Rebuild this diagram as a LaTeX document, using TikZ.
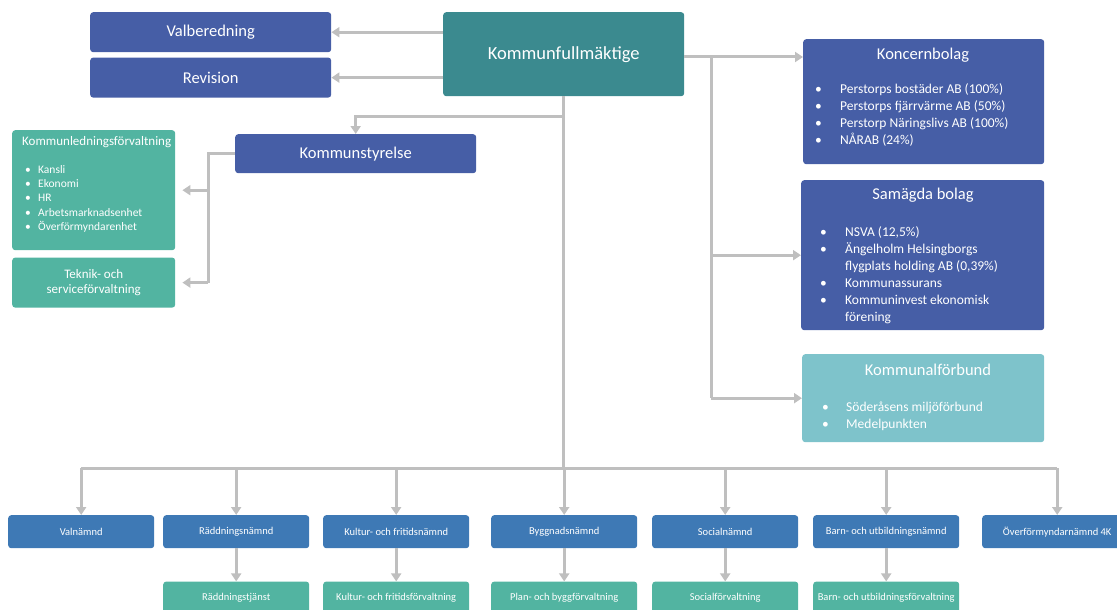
\documentclass[tikz,border=0pt]{standalone}
\usepackage{fontspec}
\setmainfont{Carlito}
\usetikzlibrary{positioning,arrows.meta}
\definecolor{navy}{RGB}{70,94,166}
\definecolor{kfteal}{RGB}{59,138,143}
\definecolor{mint}{RGB}{82,180,161}
\definecolor{sky}{RGB}{126,195,203}
\definecolor{steel}{RGB}{62,121,181}
\definecolor{wire}{RGB}{191,191,191}
\newcommand\bul[1][25pt]{\makebox[#1][l]{\textbullet}}
\tikzset{
	box/.style={rounded corners=3pt,text=white,inner sep=0pt,align=center,anchor=north west},
	nav/.style={box,fill=navy},
	mintbox/.style={box,fill=mint},
	nmnd/.style={box,fill=steel,minimum width=146pt,minimum height=33pt,font=\fontsize{10.5}{12}\selectfont},
	forv/.style={box,fill=mint,minimum width=146pt,minimum height=33pt,font=\fontsize{10.5}{12}\selectfont},
	head/.style={text=white,font=\fontsize{16.5}{19}\selectfont},
	lst/.style={text=white,align=left,anchor=north west,inner sep=0pt,font=\fontsize{13.5}{17}\selectfont},
	link/.style={draw=wire,line width=3pt},
	arr/.style={link,-{Triangle[width=10pt,length=8pt]}},
}
\begin{document}
\begin{tikzpicture}[x=1pt,y=-1pt]
	\useasboundingbox (0,0) rectangle (1117,610);
	\clip (0,0) rectangle (1117,610);
	\node[box,fill=kfteal,minimum width=241pt,minimum height=84pt,font=\fontsize{18.5}{22}\selectfont] (kf) at (443,12) {Kommunfullmäktige};
	\node[nav,minimum width=241pt,minimum height=40pt,font=\fontsize{16.5}{19}\selectfont] (valb) at (90,12) {Valberedning};
	\node[nav,minimum width=241pt,minimum height=40pt,font=\fontsize{16.5}{19}\selectfont,below=5pt of valb] (rev) {Revision};
	\node[nav,minimum width=241pt,minimum height=39pt,font=\fontsize{16.5}{19}\selectfont] (ks) at (235,134) {Kommunstyrelse};
	
	\node[mintbox,minimum width=163pt,minimum height=120pt] (kl) at (12,130) {};
	\node[text=white,anchor=west,inner sep=0pt,font=\fontsize{13}{15}\selectfont] (klt) at (22,142) {Kommunledningsförvaltning};
	\node[lst,font=\fontsize{11.5}{14.3}\selectfont] (kll) at (25,165) {\bul[13pt]Kansli\\ \bul[13pt]Ekonomi\\ \bul[13pt]HR\\ \bul[13pt]Arbetsmarknadsenhet\\ \bul[13pt]Överförmyndarenhet};
	\node[mintbox,minimum width=163pt,minimum height=50pt,font=\fontsize{13}{15}\selectfont,below=7pt of kl] (tek) {Teknik- och\\ serviceförvaltning};
	
	\node[nav,minimum width=241pt,minimum height=125pt] (kb) at (803,39) {};
	\node[head] (kbt) at (923,55) {Koncernbolag};
	\node[lst] (kbl) at (815,83) {\bul Perstorps bostäder AB (100\%)\\ \bul Perstorps fjärrvärme AB (50\%)\\ \bul Perstorp Näringslivs AB (100\%)\\ \bul NÅRAB (24\%)};
	\node[nav,minimum width=243pt,minimum height=150pt] (sb) at (801,180) {};
	\node[head] (sbt) at (923,195) {Samägda bolag};
	\node[lst] (sbl) at (820,226) {\bul NSVA (12,5\%)\\ \bul Ängelholm Helsingborgs\\ \hspace*{25pt}flygplats holding AB (0,39\%)\\ \bul Kommunassurans\\ \bul Kommuninvest ekonomisk\\ \hspace*{25pt}förening};
	\node[box,fill=sky,minimum width=242pt,minimum height=88pt] (kfb) at (802,354) {};
	\node[head] (kfbt) at (928,370) {Kommunalförbund};
	\node[lst] (kfbl) at (822,402) {\bul[24pt]Söderåsens miljöförbund\\ \bul[24pt]Medelpunkten};
	
	\node[nmnd] (valn) at (8,515) {Valnämnd};
	\node[nmnd] (raddn) at (163,515) {Räddningsnämnd};
	\node[nmnd] (kultn) at (323,515) {Kultur- och fritidsnämnd};
	\node[nmnd] (byggn) at (491,515) {Byggnadsnämnd};
	\node[nmnd] (socn) at (652,515) {Socialnämnd};
	\node[nmnd] (barnn) at (813,515) {Barn- och utbildningsnämnd};
	\node[nmnd,minimum width=150pt] (overf) at (982,515) {Överförmyndarnämnd 4K};
	\node[forv,below=33pt of raddn] (raddf) {Räddningstjänst};
	\node[forv,below=33pt of kultn] (kultf) {Kultur- och fritidsförvaltning};
	\node[forv,below=33pt of byggn] (byggf) {Plan- och byggförvaltning};
	\node[forv,below=33pt of socn] (socf) {Socialförvaltning};
	\node[forv,below=33pt of barnn] (barnf) {Barn- och utbildningsförvaltning};
	
	\coordinate (bus) at (565,468);
	\coordinate (ksj) at (565,116);
	\coordinate (rj) at (711,57);
	\coordinate (lj) at (208,152);
	
	\draw[arr] (kf.west |- valb.east) -- (valb.east);
	\draw[arr] (kf.west |- rev.east) -- (rev.east);
	\draw[link] (kf.south) -- (kf.south |- bus);
	\draw[link] (valn.north |- bus) -- (overf.north |- bus);
	\foreach \n in {valn,raddn,kultn,byggn,socn,barnn,overf}
		\draw[arr] (\n.north |- bus) -- (\n.north);
	\foreach \a/\b in {raddn/raddf,kultn/kultf,byggn/byggf,socn/socf,barnn/barnf}
		\draw[arr] (\a.south) -- (\b.north);
	\draw[arr] (ksj) -- (ks.north |- ksj) -- (ks.north);
	\draw[arr] (kf.east |- rj) -- (kb.west |- rj);
	\draw[link] (rj) -- (rj |- kfb.west);
	\draw[arr] (rj |- sb.west) -- (sb.west);
	\draw[arr] (rj |- kfb.west) -- (kfb.west);
	\draw[link] (ks.west) -- (ks.west -| lj) -- (lj |- tek.east);
	\draw[arr,shorten >=7pt] (lj |- kl.east) -- (kl.east);
	\draw[arr,shorten >=7pt] (lj |- tek.east) -- (tek.east);
\end{tikzpicture}
\end{document}
